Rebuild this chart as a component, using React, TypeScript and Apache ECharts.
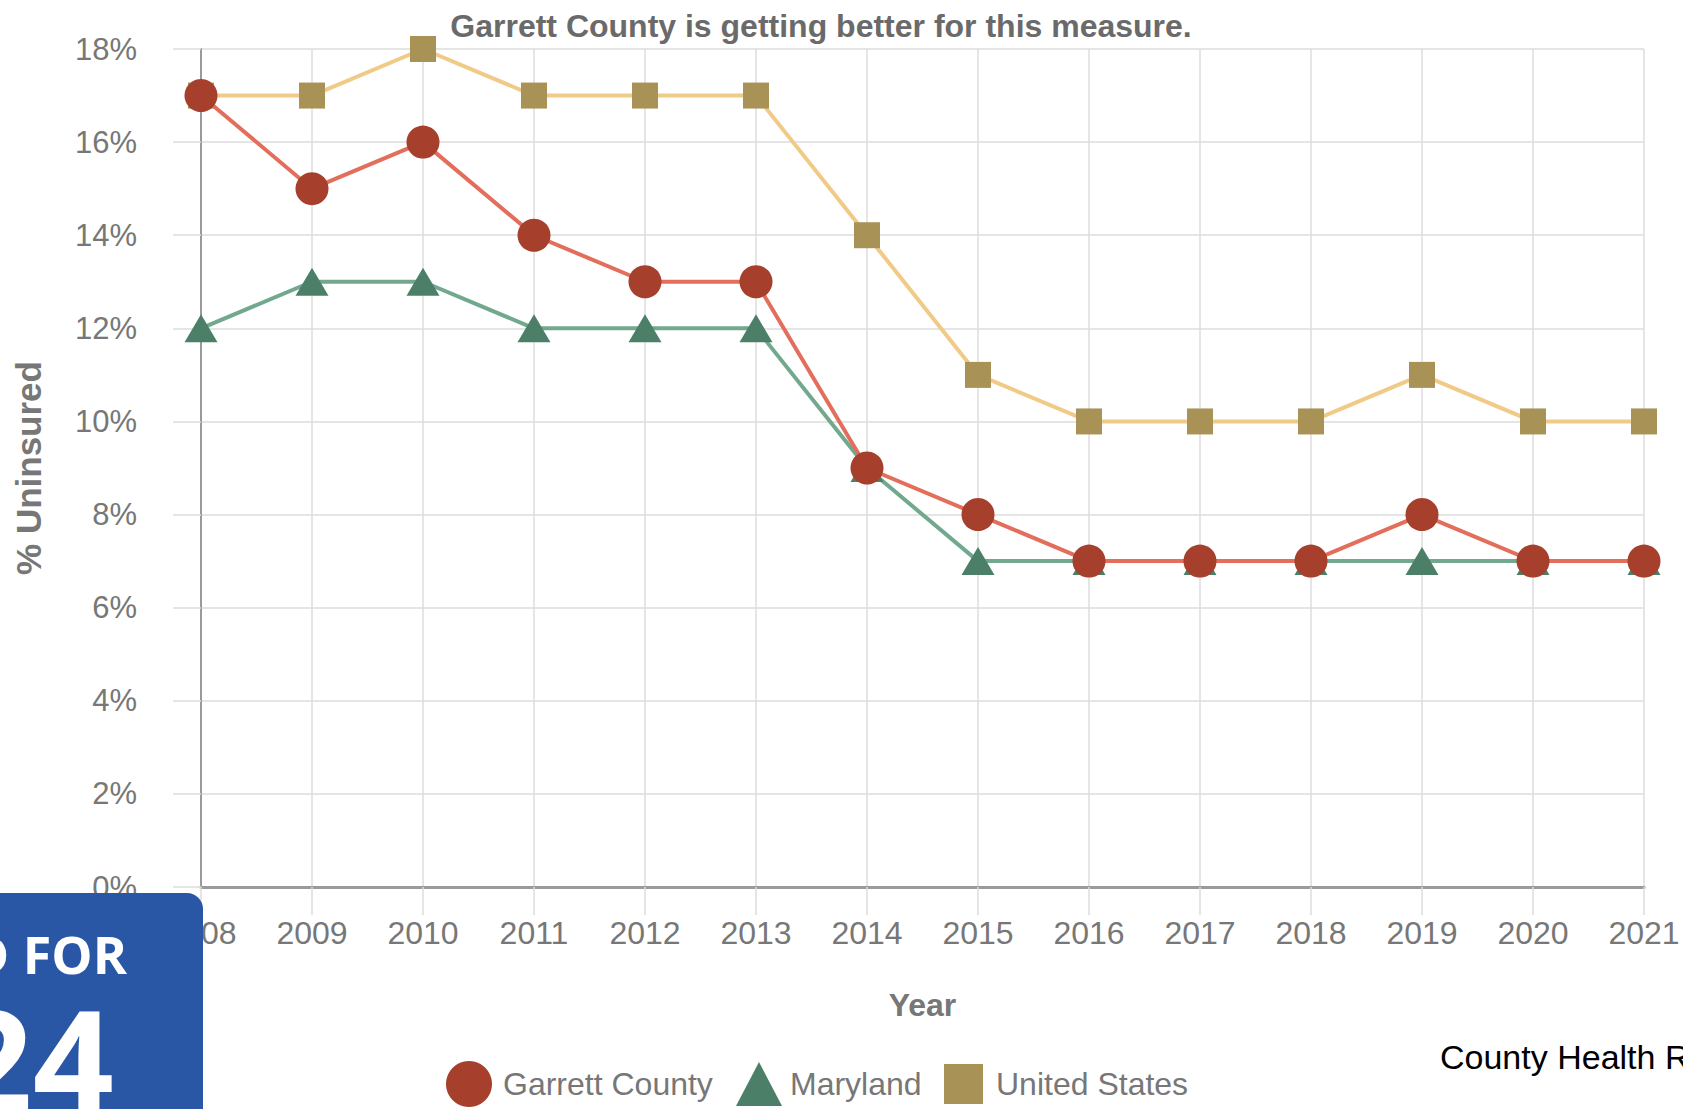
import React, { useEffect, useRef } from "react";
import * as echarts from "echarts";

const years = ["2008", "2009", "2010", "2011", "2012", "2013", "2014", "2015", "2016", "2017", "2018", "2019", "2020", "2021"];
const garrett = [17, 15, 16, 14, 13, 13, 9, 8, 7, 7, 7, 8, 7, 7];
const maryland = [12, 13, 13, 12, 12, 12, 9, 7, 7, 7, 7, 7, 7, 7];
const unitedStates = [17, 17, 18, 17, 17, 17, 14, 11, 10, 10, 10, 11, 10, 10];
const seriesNames = ["Garrett County", "Maryland", "United States"];
const titleText = "Garrett County is getting better for this measure.";

const FONT = "'Liberation Sans', Arial, sans-serif";

export default function App() {
  const ref = useRef<HTMLDivElement>(null);
  useEffect(() => {
    document.body.style.margin = "0";
    if (!ref.current) return;
    const chart = echarts.init(ref.current, null, { renderer: "svg" });
    const gray = "#777";
    chart.setOption({
      animation: false,
      backgroundColor: "#ffffff",
      textStyle: { fontFamily: FONT },
      title: {
        text: titleText,
        left: 821,
        top: 10,
        textAlign: "center",
        padding: 0,
        textStyle: { fontFamily: FONT, fontSize: 32, fontWeight: "bold", color: "#6a6a6a" },
      },
      grid: { left: 201, right: 39, top: 49, bottom: 222, containLabel: false },
      legend: [
        {
          data: [{ name: seriesNames[0], icon: "circle" }],
          left: 446, top: 1061, itemWidth: 46, itemHeight: 46, selectedMode: false, padding: 0,
          textStyle: { fontFamily: FONT, fontSize: 32, color: gray, padding: [0, 0, 0, 6] },
        },
        {
          data: [{ name: seriesNames[1], icon: "triangle" }],
          left: 736, top: 1062, itemWidth: 46, itemHeight: 44, selectedMode: false, padding: 0,
          textStyle: { fontFamily: FONT, fontSize: 32, color: gray, padding: [0, 0, 0, 3] },
        },
        {
          data: [{ name: seriesNames[2], icon: "rect" }],
          left: 944, top: 1064, itemWidth: 39, itemHeight: 40, selectedMode: false, padding: 0,
          textStyle: { fontFamily: FONT, fontSize: 32, color: gray, padding: [0, 0, 0, 8] },
        },
      ],
      xAxis: {
        type: "category",
        data: years,
        boundaryGap: false,
        name: "Year",
        nameLocation: "middle",
        nameGap: 102,
        nameTextStyle: { fontFamily: FONT, fontSize: 32, fontWeight: "bold", color: gray },
        axisLine: { show: true, lineStyle: { color: "#9a9a9a", width: 3 } },
        axisTick: { show: true, length: 28, lineStyle: { color: "#dcdcdc", width: 1.5 } },
        axisLabel: { margin: 30, fontFamily: FONT, fontSize: 32, color: gray },
        splitLine: { show: true, lineStyle: { color: "#dcdcdc", width: 1.5 } },
      },
      yAxis: {
        type: "value",
        min: 0,
        max: 18,
        interval: 2,
        name: "% Uninsured",
        nameLocation: "middle",
        nameGap: 155,
        nameRotate: 90,
        nameTextStyle: { fontFamily: FONT, fontSize: 35, fontWeight: "bold", color: gray },
        axisLine: { show: true, lineStyle: { color: "#9a9a9a", width: 2 } },
        axisTick: { show: true, length: 28, lineStyle: { color: "#dcdcdc", width: 1.5 } },
        axisLabel: { margin: 64, fontFamily: FONT, fontSize: 31, color: gray, formatter: "{value}%" },
        splitLine: { show: true, lineStyle: { color: "#dcdcdc", width: 1.5 } },
      },
      series: [
        {
          name: seriesNames[2],
          type: "line",
          data: unitedStates,
          symbol: "rect",
          symbolSize: 26,
          itemStyle: { color: "#a89256" },
          lineStyle: { color: "#f0ca86", width: 4 },
          z: 2,
        },
        {
          name: seriesNames[1],
          type: "line",
          data: maryland,
          symbol: "triangle",
          symbolSize: [33, 28],
          itemStyle: { color: "#4c7f67" },
          lineStyle: { color: "#72a98e", width: 4 },
          z: 3,
        },
        {
          name: seriesNames[0],
          type: "line",
          data: garrett,
          symbol: "circle",
          symbolSize: 33,
          itemStyle: { color: "#a63f2c" },
          lineStyle: { color: "#e26e5b", width: 4 },
          z: 4,
        },
      ],
      graphic: [
        {
          type: "rect",
          shape: { x: -20, y: 893, width: 223, height: 260, r: [0, 16, 0, 0] },
          style: { fill: "#2a56a6" },
          z: 100,
        },
        {
          type: "text",
          x: 127,
          y: 953,
          z: 101,
          style: {
            text: "D FOR",
            fill: "#ffffff",
            font: "bold 52px 'Open Sans', 'Noto Sans', sans-serif",
            align: "right",
            verticalAlign: "middle",
          },
        },
        {
          type: "text",
          x: 114,
          y: 1058,
          z: 101,
          style: {
            text: "24",
            fill: "#ffffff",
            font: "bold 142px 'Open Sans', 'Noto Sans', sans-serif",
            align: "right",
            verticalAlign: "middle",
          },
        },
        {
          type: "text",
          x: 1440,
          y: 1057,
          z: 101,
          style: {
            text: "County Health Rankings",
            fill: "#000000",
            font: "34px 'Liberation Sans', Arial, sans-serif",
            align: "left",
            verticalAlign: "middle",
          },
        },
      ],
    });
    return () => chart.dispose();
  }, []);
  return <div ref={ref} style={{ width: 1683, height: 1109 }} />;
}
